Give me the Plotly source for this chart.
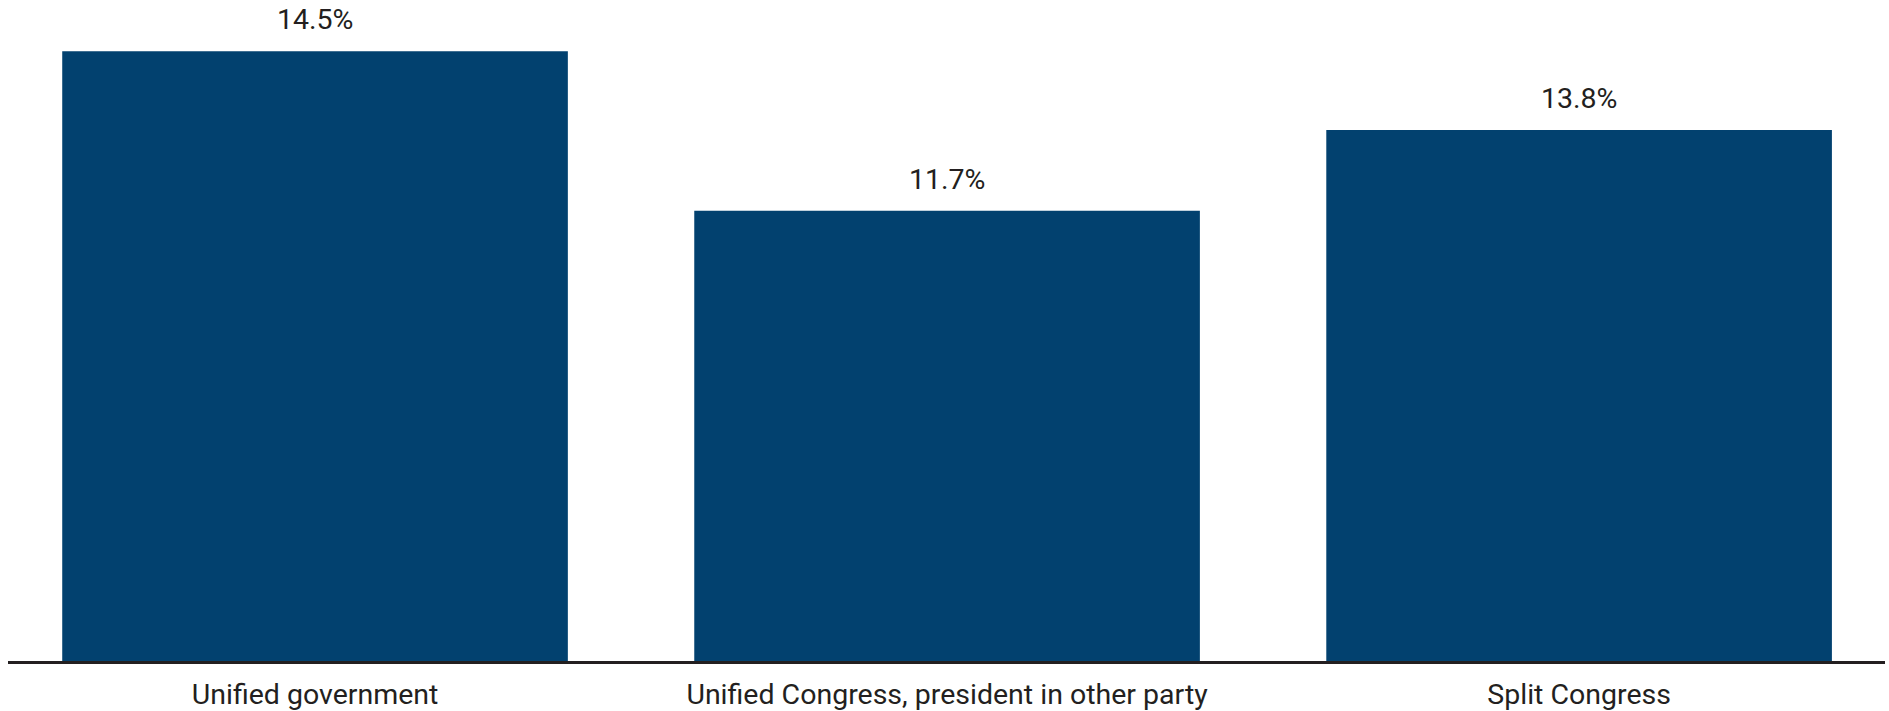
import plotly.graph_objects as go

categories = ["Unified government", "Unified Congress, president in other party", "Split Congress"]
values = [15.85, 11.7, 13.8]
labels = ["14.5%", "11.7%", "13.8%"]

BAR_COLOR = "#02416f"
TEXT_COLOR = "#231f20"
FONT = "Roboto"

fig = go.Figure()
fig.add_trace(go.Bar(
    x=categories,
    y=values,
    marker=dict(color=BAR_COLOR, line=dict(width=0)),
    hoverinfo="skip",
))

for c, v, t in zip(categories, values, labels):
    fig.add_annotation(
        x=c, y=v, text=t, showarrow=False,
        yanchor="bottom", yshift=13,
        font=dict(family=FONT, size=28.5, color=TEXT_COLOR),
    )

fig.update_layout(
    width=1889, height=711,
    margin=dict(l=8, r=4, t=0, b=48),
    paper_bgcolor="white", plot_bgcolor="white",
    bargap=0.2,
    showlegend=False,
    font=dict(family=FONT, size=28.5, color=TEXT_COLOR),
    xaxis=dict(
        range=[-0.4858, 2.484],
        showline=True, linecolor=TEXT_COLOR, linewidth=3,
        ticks="", showgrid=False, zeroline=False,
        ticklabelstandoff=6,
        tickfont=dict(family=FONT, size=28.5, color=TEXT_COLOR),
    ),
    yaxis=dict(
        range=[0, 17.18],
        visible=False, showgrid=False, zeroline=False,
    ),
)

fig.write_html("out.html")
